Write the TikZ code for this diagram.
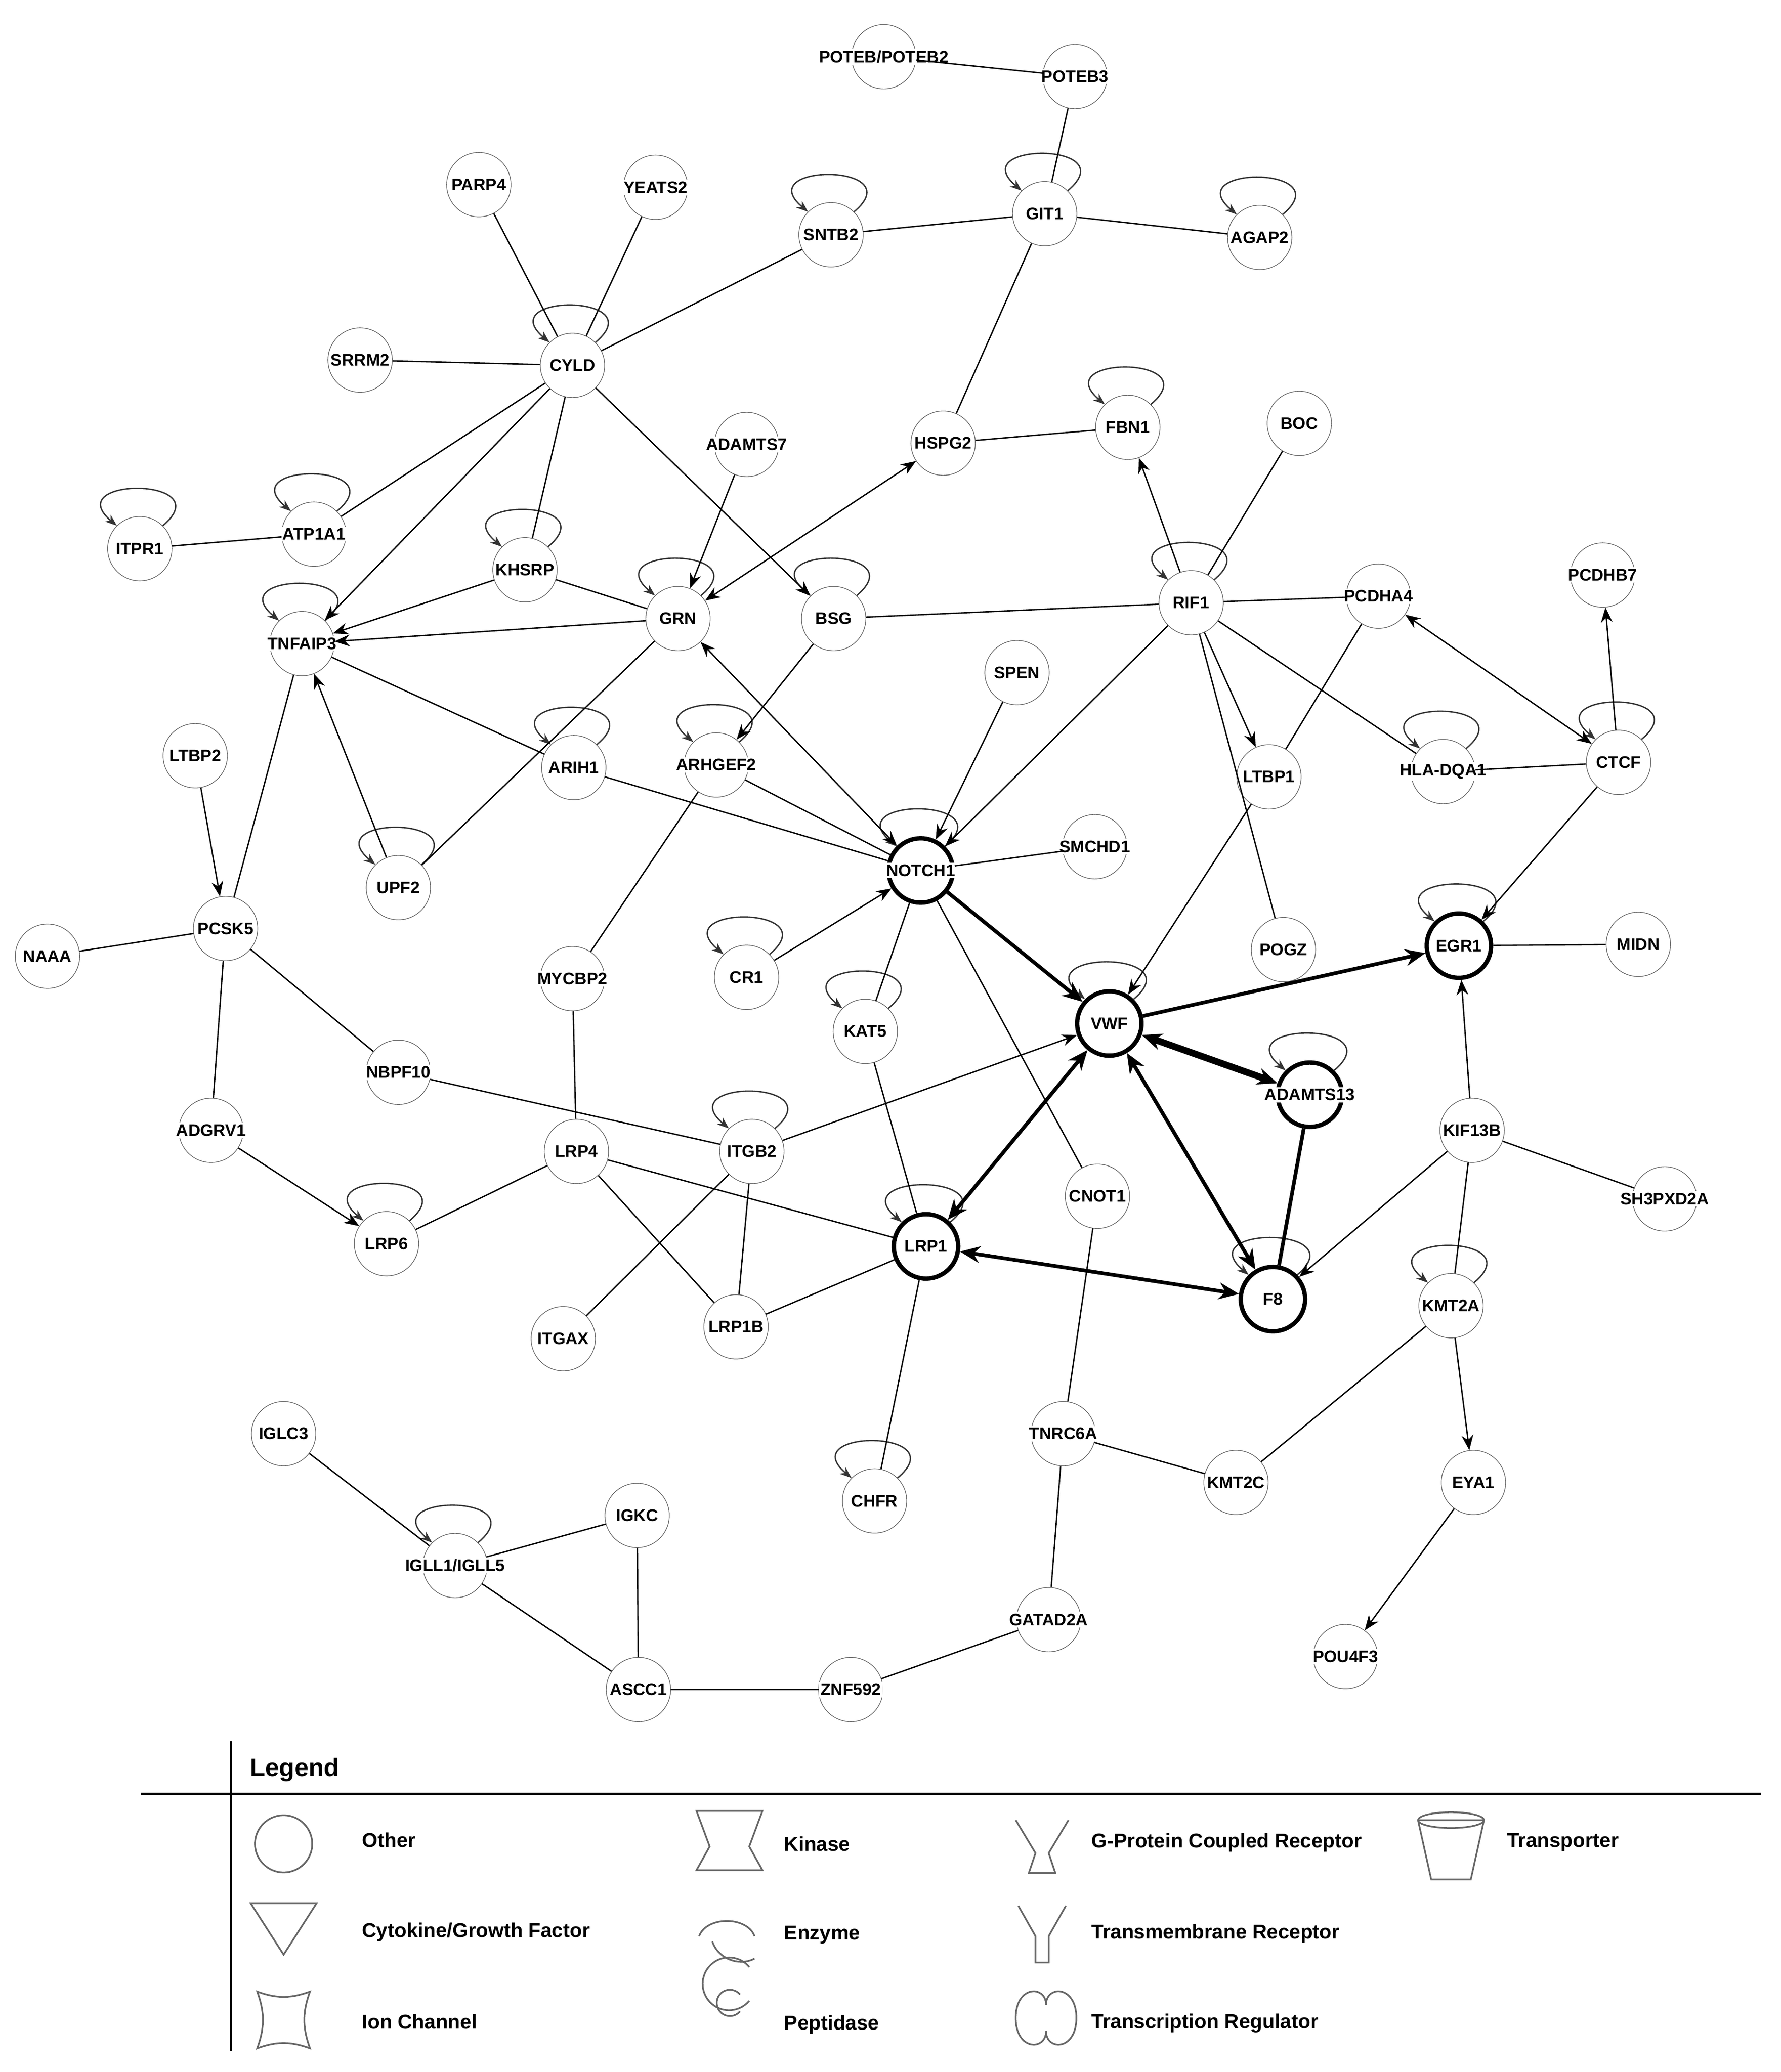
\documentclass[tikz,border=0pt]{standalone}
\usepackage{fontspec}
\setmainfont{Liberation Sans}
\usetikzlibrary{arrows.meta}
\newcommand{\mol}[4][mol]{%
  \node[#1] (#2) at (#3) {};
  \node[lbl] (#2-t) at (#2) {#4};}
\begin{document}
\begin{tikzpicture}[x=0.02767cm,y=-0.02767cm]
  % styles
  \tikzset{
    mol/.style={circle, draw=black!60, thin, minimum size=1.35cm, inner sep=0pt},
    focus/.style={mol, draw=black, line width=2.6pt},
    lbl/.style={font=\fontsize{10}{12}\selectfont\bfseries, inner sep=1pt, fill=white},
    link/.style={black, line width=0.8pt},
    arrow/.style={link, -{Stealth[length=9pt,width=7pt]}},
    both/.style={link, {Stealth[length=9pt,width=7pt]}-{Stealth[length=9pt,width=7pt]}},
    strong/.style={line width=2.2pt, {Stealth[length=12pt,width=10pt]}-{Stealth[length=12pt,width=10pt]}},
    self/.style={black!80, line width=0.8pt, -{Stealth[length=7pt]}, out=40, in=140, min distance=1.6cm, looseness=1.4},
    leg/.style={font=\fontsize{12}{14}\selectfont\bfseries, anchor=west},
    icon/.style={draw=black!60, line width=1pt}
  }
  \useasboundingbox (0,0) rectangle (1350,1571);

  % Self loops and links are drawn first, labels on top
  \mol{poteb}{670,43}{POTEB/POTEB2}
  \mol{poteb3}{815,58}{POTEB3}
  \mol{parp4}{363,140}{PARP4}
  \mol{yeats2}{497,142}{YEATS2}
  \mol{sntb2}{630,178}{SNTB2}
  \mol{git1}{792,162}{GIT1}
  \mol{agap2}{955,180}{AGAP2}
  \mol{srrm2}{273,273}{SRRM2}
  \mol{cyld}{434,277}{CYLD}
  \mol{fbn1}{855,324}{FBN1}
  \mol{boc}{985,321}{BOC}
  \mol{hspg2}{715,336}{HSPG2}
  \mol{adamts7}{566,337}{ADAMTS7}
  \mol{itpr1}{106,416}{ITPR1}
  \mol{atp1a1}{238,405}{ATP1A1}
  \mol{khsrp}{398,432}{KHSRP}
  \mol{grn}{514,469}{GRN}
  \mol{bsg}{632,469}{BSG}
  \mol{rif1}{903,457}{RIF1}
  \mol{pcdha4}{1045,452}{PCDHA4}
  \mol{pcdhb7}{1215,436}{PCDHB7}
  \mol{tnfaip3}{229,488}{TNFAIP3}
  \mol{spen}{771,510}{SPEN}
  \mol{arhgef2}{543,580}{ARHGEF2}
  \mol{ltbp1}{962,589}{LTBP1}
  \mol{hladqa1}{1094,585}{HLA-DQA1}
  \mol{ctcf}{1227,578}{CTCF}
  \mol{ltbp2}{148,573}{LTBP2}
  \mol{arih1}{435,582}{ARIH1}
  \mol{upf2}{302,673}{UPF2}
  \mol[focus]{notch1}{698,660}{NOTCH1}
  \mol{smchd1}{830,642}{SMCHD1}
  \mol{pcsk5}{171,704}{PCSK5}
  \mol{naaa}{36,725}{NAAA}
  \mol{mycbp2}{434,742}{MYCBP2}
  \mol{cr1}{566,741}{CR1}
  \mol{pogz}{973,720}{POGZ}
  \mol[focus]{egr1}{1106,717}{EGR1}
  \mol{midn}{1242,716}{MIDN}
  \mol{kat5}{656,782}{KAT5}
  \mol[focus]{vwf}{841,776}{VWF}
  \mol{nbpf10}{302,813}{NBPF10}
  \mol[focus]{adamts13}{993,830}{ADAMTS13}
  \mol{adgrv1}{160,857}{ADGRV1}
  \mol{lrp4}{437,873}{LRP4}
  \mol{itgb2}{570,873}{ITGB2}
  \mol{kif13b}{1116,857}{KIF13B}
  \mol{sh3pxd2a}{1262,909}{SH3PXD2A}
  \mol{cnot1}{832,907}{CNOT1}
  \mol{lrp6}{293,943}{LRP6}
  \mol[focus]{lrp1}{702,945}{LRP1}
  \mol[focus]{f8}{965,985}{F8}
  \mol{kmt2a}{1100,990}{KMT2A}
  \mol{itgax}{427,1015}{ITGAX}
  \mol{lrp1b}{558,1006}{LRP1B}
  \mol{iglc3}{215,1087}{IGLC3}
  \mol{tnrc6a}{806,1087}{TNRC6A}
  \mol{chfr}{663,1138}{CHFR}
  \mol{kmt2c}{937,1124}{KMT2C}
  \mol{eya1}{1117,1124}{EYA1}
  \mol{igkc}{483,1149}{IGKC}
  \mol{igll1}{345,1187}{IGLL1/IGLL5}
  \mol{gatad2a}{795,1228}{GATAD2A}
  \mol{pou4f3}{1020,1256}{POU4F3}
  \mol{ascc1}{484,1281}{ASCC1}
  \mol{znf592}{645,1281}{ZNF592}

  \begin{scope}[on background layer/.style={}]
  % Self loops
  \foreach \n in {git1,sntb2,agap2,cyld,fbn1,itpr1,atp1a1,khsrp,grn,bsg,rif1,tnfaip3,
    arhgef2,hladqa1,ctcf,arih1,upf2,notch1,cr1,egr1,kat5,vwf,adamts13,itgb2,lrp6,lrp1,
    f8,kmt2a,chfr,igll1}
    \draw[self] (\n.north east) to (\n.north west);

  % Plain links
  \foreach \a/\b in {poteb/poteb3,poteb3/git1,sntb2/git1,git1/agap2,git1/hspg2,
    parp4/cyld,yeats2/cyld,sntb2/cyld,srrm2/cyld,cyld/atp1a1,cyld/khsrp,hspg2/fbn1,
    itpr1/atp1a1,khsrp/grn,bsg/rif1,boc/rif1,rif1/pcdha4,rif1/hladqa1,rif1/pogz,
    hladqa1/ctcf,pcdha4/ltbp1,tnfaip3/arih1,tnfaip3/pcsk5,upf2/grn,arhgef2/notch1,
    arih1/notch1,notch1/smchd1,notch1/kat5,notch1/cnot1,arhgef2/mycbp2,naaa/pcsk5,
    pcsk5/nbpf10,pcsk5/adgrv1,mycbp2/lrp4,nbpf10/itgb2,lrp4/lrp6,lrp4/lrp1,lrp4/lrp1b,
    itgb2/itgax,itgb2/lrp1b,lrp1b/lrp1,kat5/lrp1,lrp1/chfr,egr1/midn,kif13b/sh3pxd2a,
    kif13b/kmt2a,kmt2a/kmt2c,cnot1/tnrc6a,tnrc6a/kmt2c,tnrc6a/gatad2a,gatad2a/znf592,
    znf592/ascc1,ascc1/igkc,ascc1/igll1,igll1/igkc,iglc3/igll1}
    \draw[link] (\a) -- (\b);

  % Arrows
  \foreach \a/\b in {cyld/tnfaip3,cyld/bsg,adamts7/grn,khsrp/tnfaip3,grn/tnfaip3,
    bsg/arhgef2,rif1/fbn1,rif1/ltbp1,rif1/notch1,ctcf/pcdhb7,ltbp1/vwf,ctcf/egr1,
    upf2/tnfaip3,spen/notch1,cr1/notch1,ltbp2/pcsk5,adgrv1/lrp6,itgb2/vwf,
    kif13b/egr1,kif13b/f8,kmt2a/eya1,eya1/pou4f3}
    \draw[arrow] (\a) -- (\b);
  \draw[both] (hspg2) -- (grn);
  \draw[both] (pcdha4) -- (ctcf);
  \draw[both] (grn) -- (notch1);

  % Focus links
  \draw[line width=2.2pt, -{Stealth[length=12pt,width=10pt]}] (notch1) -- (vwf);
  \draw[line width=2.2pt, -{Stealth[length=12pt,width=10pt]}] (vwf) -- (egr1);
  \draw[strong] (vwf) -- (lrp1);
  \draw[strong] (vwf) -- (f8);
  \draw[strong] (lrp1) -- (f8);
  \draw[strong, line width=4pt] (vwf) -- (adamts13);
  \draw[line width=2.2pt] (adamts13) -- (f8);
  \end{scope}

  % Labels again on top of the links
  \foreach \n in {poteb3,git1,sntb2,agap2,cyld,srrm2,hspg2,fbn1,atp1a1,tnfaip3,grn,
    bsg,rif1,pcdha4,hladqa1,ctcf,ltbp1,notch1,smchd1,pcsk5,egr1,vwf,adamts13,nbpf10,
    itgb2,lrp1,f8,kmt2a,kmt2c,tnrc6a,igll1,gatad2a,znf592,ascc1,khsrp,kif13b,lrp4,lrp6}
    \node[lbl, fill=none] at (\n-t) {\phantom{X}};

  % Legend
  \draw[line width=1.5pt] (175,1320) -- (175,1555);
  \draw[line width=1.5pt] (107,1360) -- (1335,1360);
  \node[font=\fontsize{15}{17}\selectfont\bfseries, anchor=west] (legtitle) at (185,1342) {Legend};
  \node[circle, icon, minimum size=1.2cm] (lgother) at (215,1398) {};
  \node[leg] (tother) at (270,1395) {Other};
  \draw[icon] (190,1443) -- (240,1443) -- (215,1482) -- cycle;
  \node[leg] (tcyto) at (270,1465) {Cytokine/Growth Factor};
  \draw[icon] (195,1510) to[bend right=20] (235,1510) to[bend right=20] (235,1553)
    to[bend right=20] (195,1553) to[bend right=20] cycle;
  \node[leg] (tion) at (270,1533) {Ion Channel};
  \draw[icon] (528,1373) -- (578,1373) -- (568,1400) -- (578,1418) -- (528,1418) -- (538,1400) -- cycle;
  \node[leg] (tkin) at (590,1398) {Kinase};
  \draw[icon] (530,1468) to[bend left=70] (572,1468);
  \draw[icon] (540,1472) to[bend right=50] (572,1485);
  \node[leg] (tenz) at (590,1467) {Enzyme};
  \draw[icon] (568,1517) arc[start angle=40, end angle=320, radius=20];
  \draw[icon] (561,1525) arc[start angle=40, end angle=320, radius=10];
  \node[leg] (tpep) at (590,1535) {Peptidase};
  \draw[icon] (770,1380) -- (785,1405) -- (780,1420) -- (800,1420) -- (795,1405) -- (810,1380);
  \node[leg] (tgpc) at (823,1397) {G-Protein Coupled Receptor};
  \draw[icon] (772,1445) -- (785,1468) -- (785,1488) -- (795,1488) -- (795,1468) -- (808,1445);
  \node[leg] (ttm) at (823,1466) {Transmembrane Receptor};
  \draw[icon] (770,1530) .. controls (770,1505) and (793,1505) .. (793,1520)
    .. controls (793,1505) and (816,1505) .. (816,1530)
    .. controls (816,1555) and (793,1555) .. (793,1540)
    .. controls (793,1555) and (770,1555) .. (770,1530);
  \node[leg] (ttr) at (823,1534) {Transcription Regulator};
  \draw[icon] (1075,1380) -- (1125,1380) -- (1115,1425) -- (1085,1425) -- cycle;
  \draw[icon] (1100,1380) ellipse[x radius=25, y radius=6];
  \node[leg] (ttp) at (1138,1397) {Transporter};
\end{tikzpicture}
\end{document}
